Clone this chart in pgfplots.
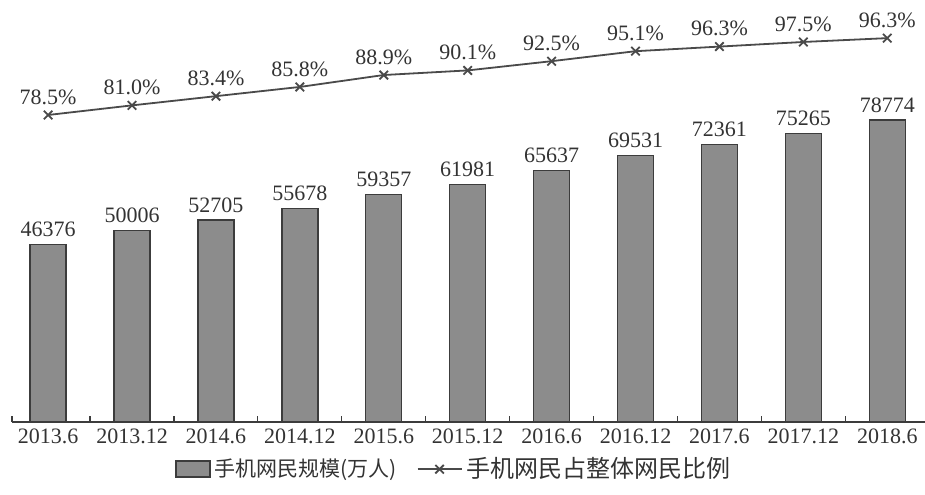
\documentclass[border=0pt]{standalone}
\usepackage{pgfplots}
\pgfplotsset{compat=1.18}
\usepackage{fontspec}
\setmainfont{Liberation Serif}
\newfontfamily\cjk{Noto Sans CJK SC}
\definecolor{barfill}{HTML}{8C8C8C}
\definecolor{bardraw}{HTML}{3C3C3C}
\definecolor{linec}{HTML}{4A4A4A}
\definecolor{txt}{HTML}{333333}

\begin{document}
\begin{tikzpicture}
\path[use as bounding box] (0,0) rectangle (462.5pt,247pt);
\pgfplotsset{common/.style={
  width=456.5pt, height=205pt, scale only axis,
  at={(6pt,36pt)}, anchor=south west,
  xmin=-0.43, xmax=10.45, clip=false}}

% bars: mobile internet users (10k)
\begin{axis}[common,
  ymin=0, ymax=106940,
  axis x line*=bottom, axis y line=none,
  x axis line style={-, color=bardraw, line width=0.6pt},
  xtick pos=bottom, xtick align=inside,
  xtick={0,...,10},
  xticklabels={2013.6,2013.12,2014.6,2014.12,2015.6,2015.12,2016.6,2016.12,2017.6,2017.12,2018.6},
  major tick length=0pt,
  minor xtick={-0.43,0.5,1.5,2.5,3.5,4.5,5.5,6.5,7.5,8.5,9.5},
  minor tick length=-3pt,
  minor tick style={color=bardraw, line width=0.6pt},
  x tick label style={font=\fontsize{11}{13}\selectfont, text=txt},
  ybar, bar width=18pt,
  nodes near coords={\pgfmathprintnumber[fixed,precision=0,1000 sep={},assume math mode=true]{\pgfplotspointmeta}},
  every node near coord/.append style={font=\fontsize{11}{13}\selectfont, text=txt},
]
\addplot[fill=barfill, draw=bardraw, line width=0.7pt] coordinates {
(0,46376) (1,50006) (2,52705) (3,55678) (4,59357) (5,61981)
(6,65637) (7,69531) (8,72361) (9,75265) (10,78774)
};
\end{axis}

% line: share of all internet users (%); the last mark sits where the source draws it
\begin{axis}[common,
  ymin=-1.4, ymax=105.3,
  hide axis,
  legend style={at={(0.485,-0.115)}, anchor=center, draw=none, fill=none,
    legend columns=2, font=\cjk\fontsize{10.5}{13}\selectfont, text=txt,
    /tikz/every even column/.append style={column sep=8pt}},
  point meta=explicit symbolic,
  nodes near coords={\pgfplotspointmeta\%},
  every node near coord/.append style={font=\fontsize{11}{13}\selectfont, text=txt, yshift=1.5pt},
]
\addlegendimage{legend image code/.code={\draw[fill=barfill, draw=bardraw, line width=0.7pt] (0pt,-4pt) rectangle (17pt,4pt);}}
\addlegendentry{手机网民规模(万人)}
\addplot[color=linec, line width=0.9pt, mark=x, mark size=3pt,
  legend image code/.code={\draw[color=linec, line width=0.9pt] (0pt,0pt) -- (22pt,0pt); \draw[color=linec, line width=0.9pt] plot[mark=x, mark size=3pt] coordinates {(11pt,0pt)};}]
coordinates {
(0,78.5) [78.5] (1,81.0) [81.0] (2,83.4) [83.4] (3,85.8) [85.8]
(4,88.9) [88.9] (5,90.1) [90.1] (6,92.5) [92.5] (7,95.1) [95.1]
(8,96.3) [96.3] (9,97.5) [97.5] (10,98.5) [96.3]
};
\addlegendentry{\fontsize{12}{13}\selectfont 手机网民占整体网民比例}
\end{axis}
\end{tikzpicture}
\end{document}
